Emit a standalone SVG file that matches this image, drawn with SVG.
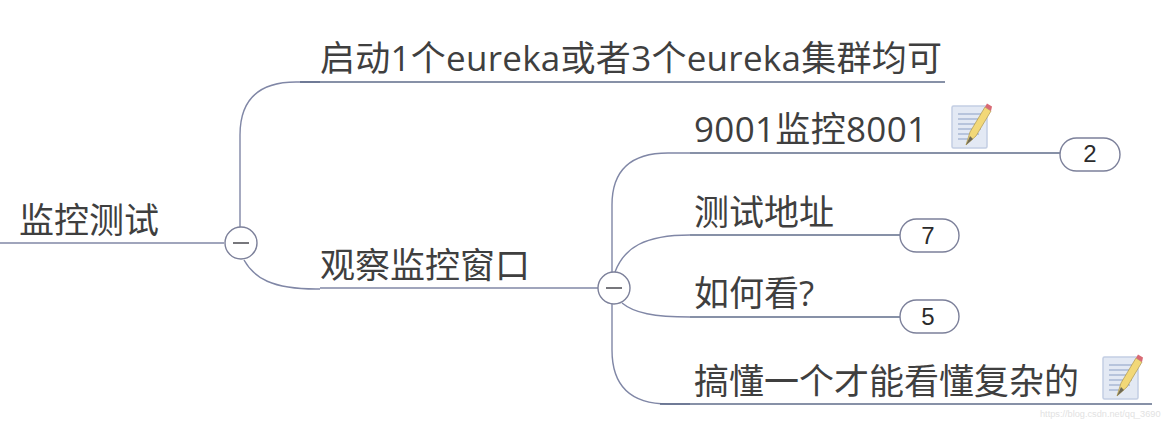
<svg xmlns="http://www.w3.org/2000/svg" width="1168" height="437" viewBox="0 0 1168 437">
<defs>
<g id="note">
<rect x="0" y="4" width="35" height="42" rx="1.5" fill="#e3e9f4" stroke="#c3cee3" stroke-width="1.5"/>
<path d="M6 12H29M6 17H29M6 22H29M6 27H29M6 32H27M6 37H16" stroke="#a9b8d4" stroke-width="1.5" fill="none"/>
<path d="M14 43L18 30L33 5L39 9L24 34Z" fill="#f2d878" stroke="#b5a05c" stroke-width="0.8"/>
<path d="M33 5L35 1.500L40 4.500L39 9Z" fill="#d96a74"/>
<path d="M14 43L18 34L21 37Z" fill="#6f6a55"/>
</g>
</defs>
<style>
.c{fill:none;stroke:#8087a6;stroke-width:1.4}
.d{fill:none;stroke:#5f6c8a;stroke-width:1.4}
.t{font-family:"Open Sans","Noto Sans CJK SC",sans-serif;font-size:35px;fill:#3f3f3f}
.b{fill:#fff;stroke:#7c809a;stroke-width:1.4}
.n{font-family:"Liberation Sans",sans-serif;font-size:24px;fill:#2b2b2b;text-anchor:middle}
.m{stroke:#77777c;stroke-width:2;fill:none}
</style>
<rect width="1168" height="437" fill="#fff"/>
<g id="connectors">
<path class="c" d="M0 243H224"/>
<path class="c" d="M240 227V135Q240 82 296 82H320"/>
<path class="d" d="M300 82H945"/>
<path class="c" d="M244 260C254 278 272 289 316 289H320"/>
<path class="c" d="M320 288H598"/>
<path class="c" d="M612 272V205Q612 153 668 153H690"/>
<path class="d" d="M690 153H1060"/>
<path class="c" d="M615 272C624 248 644 235 690 235"/>
<path class="d" d="M690 235H900"/>
<path class="c" d="M622 303C634 313 654 317 690 317"/>
<path class="d" d="M690 317H900"/>
<path class="c" d="M612 304V350Q612 404 668 404H690"/>
<path class="d" d="M660 404H1152"/>
</g>
<g id="root"><text class="t" x="19" y="233">监控测试</text></g>
<g id="toggle-root"><circle class="b" cx="241" cy="243" r="16"/><path class="m" d="M233 243H249"/></g>
<g id="branch-1"><text class="t" x="320" y="71" textLength="622">启动1个eureka或者3个eureka集群均可</text></g>
<g id="branch-2"><text class="t" x="320" y="278">观察监控窗口</text></g>
<g id="toggle-branch"><circle class="b" cx="614" cy="288" r="16"/><path class="m" d="M606 288H622"/></g>
<g id="leaf-1"><text class="t" x="694" y="142" textLength="233">9001监控8001</text><use href="#note" x="952" y="102"/>
<rect class="b" x="1060" y="138" width="60" height="33" rx="16.500"/><text class="n" x="1090" y="162">2</text></g>
<g id="leaf-2"><text class="t" x="694" y="225">测试地址</text>
<rect class="b" x="900" y="219" width="59" height="33" rx="16.500"/><text class="n" x="928" y="244">7</text></g>
<g id="leaf-3"><text class="t" x="694" y="306">如何看?</text>
<rect class="b" x="900" y="300" width="59" height="33" rx="16.500"/><text class="n" x="928" y="325">5</text></g>
<g id="leaf-4"><text class="t" x="694" y="394">搞懂一个才能看懂复杂的</text><use href="#note" x="1103" y="353"/></g>
<text x="1040" y="417" font-family="Liberation Sans, sans-serif" font-size="9.200" fill="#e2e2e2">https://blog.csdn.net/qq_3690</text>
</svg>
